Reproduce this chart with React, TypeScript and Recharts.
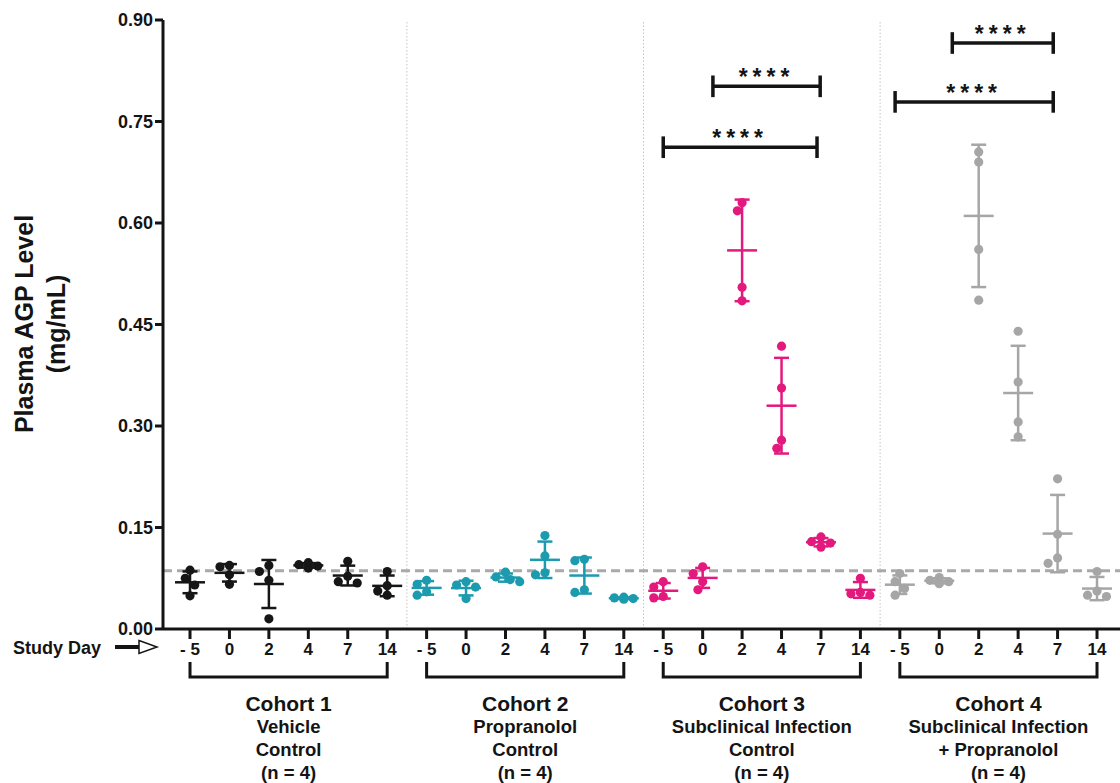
import React from 'react';
import { ComposedChart, Scatter, XAxis, YAxis, ReferenceLine, ErrorBar } from 'recharts';

const DAY_LABELS = ['- 5', '0', '2', '4', '7', '14'];
const Y_TICKS = [0, 0.15, 0.3, 0.45, 0.6, 0.75, 0.9];

const COHORT_TITLES = ['Cohort 1', 'Cohort 2', 'Cohort 3', 'Cohort 4'];
const COHORT_NOTES = [
  ['Vehicle', 'Control', '(n = 4)'],
  ['Propranolol', 'Control', '(n = 4)'],
  ['Subclinical Infection', 'Control', '(n = 4)'],
  ['Subclinical Infection', '+ Propranolol', '(n = 4)'],
];
const COHORT_COLORS = ['#161616', '#1c9aae', '#e3197d', '#a6a6a6'];

// plasma AGP (mg/mL), one row per study day, 4 animals each
const COHORT1 = [
  [0.087, 0.075, 0.065, 0.049],
  [0.094, 0.092, 0.080, 0.066],
  [0.094, 0.085, 0.072, 0.015],
  [0.098, 0.095, 0.093, 0.090],
  [0.100, 0.078, 0.070, 0.068],
  [0.085, 0.064, 0.056, 0.050],
];
const COHORT2 = [
  [0.072, 0.066, 0.055, 0.050],
  [0.070, 0.065, 0.062, 0.045],
  [0.084, 0.077, 0.073, 0.070],
  [0.138, 0.108, 0.083, 0.080],
  [0.103, 0.101, 0.058, 0.054],
  [0.047, 0.046, 0.045, 0.044],
];
const COHORT3 = [
  [0.070, 0.062, 0.048, 0.046],
  [0.092, 0.082, 0.070, 0.058],
  [0.630, 0.618, 0.505, 0.485],
  [0.418, 0.356, 0.279, 0.267],
  [0.136, 0.129, 0.127, 0.121],
  [0.075, 0.054, 0.052, 0.050],
];
const COHORT4 = [
  [0.082, 0.070, 0.060, 0.050],
  [0.076, 0.072, 0.070, 0.067],
  [0.705, 0.690, 0.561, 0.486],
  [0.440, 0.365, 0.306, 0.284],
  [0.222, 0.140, 0.105, 0.097],
  [0.085, 0.056, 0.050, 0.048],
];
const COHORTS = [COHORT1, COHORT2, COHORT3, COHORT4];

const BASELINE = 0.086;

// significance brackets (x in study-day slots, y in mg/mL)
const SIG_FROM = [12, 13.26, 17.88, 19.33];
const SIG_TO = [15.9, 15.98, 21.89, 21.89];
const SIG_LEVEL = [0.712, 0.802, 0.779, 0.866];
const SIG_TEXT = ['****', '****', '****', '****'];

const FONT = '"Liberation Sans", Arial, Helvetica, sans-serif';
const INK = '#141414';

const W = 1120;
const H = 783;
const PLOT_LEFT = 163;
const PLOT_TOP = 20;
const PLOT_BOTTOM = 629;
const DAY_AXIS_H = 32;
const X_MIN = -0.685;
const X_MAX = 23.583;
const UNIT = (W - PLOT_LEFT) / (X_MAX - X_MIN);
const PX_PER_Y = (PLOT_BOTTOM - PLOT_TOP) / 0.9;
const DOT_R = 4.6;

const DAY_TICKS = Array.from({ length: 24 }, (_, i) => i);
const COHORT_CENTERS = [2.5, 8.5, 14.5, 20.5];

// spread overlapping dots sideways, like a column scatter
function spread(values: number[]) {
  const placed: { v: number; o: number }[] = [];
  const steps = [0, -0.12, 0.12, -0.24, 0.24, -0.36, 0.36];
  return values.map((v) => {
    const o =
      steps.find((s) =>
        placed.every((p) => Math.hypot((p.v - v) * PX_PER_Y, (p.o - s) * UNIT) >= DOT_R * 1.85)
      ) ?? 0;
    placed.push({ v, o });
    return o;
  });
}

function mean(a: number[]) {
  return a.reduce((s, v) => s + v, 0) / a.length;
}
function sd(a: number[]) {
  const m = mean(a);
  return Math.sqrt(a.reduce((s, v) => s + (v - m) ** 2, 0) / (a.length - 1));
}

const pointData = COHORTS.map((rows, c) =>
  rows.flatMap((vals, g) => {
    const offs = spread(vals);
    return vals.map((v, k) => ({ x: c * 6 + g + offs[k], y: v }));
  })
);
const meanData = COHORTS.map((rows, c) =>
  rows.map((vals, g) => ({ x: c * 6 + g, y: mean(vals), sd: sd(vals) }))
);

function CohortTick(props: any) {
  const { x, y, payload } = props;
  const c = COHORT_CENTERS.indexOf(payload.value);
  const half = 2.5 * UNIT;
  return (
    <g fontFamily={FONT} fontWeight="bold" fill={INK}>
      <path
        d={`M${x - half},${y + 1}V${y + 16}H${x + half}V${y + 1}`}
        stroke={INK}
        strokeWidth={3}
        fill="none"
      />
      <text x={x} y={y + 50} textAnchor="middle" fontSize={21}>
        {COHORT_TITLES[c]}
      </text>
      {COHORT_NOTES[c].map((t, i) => (
        <text key={i} x={x} y={y + 72 + i * 23} textAnchor="middle" fontSize={18.5}>
          {t}
        </text>
      ))}
    </g>
  );
}

const yTitle = () => (
  <g fontFamily={FONT} fontWeight="bold" fontSize={25} fill={INK}>
    <text transform="translate(33,324) rotate(-90)" textAnchor="middle">
      Plasma AGP Level
    </text>
    <text transform="translate(65,324) rotate(-90)" textAnchor="middle">
      (mg/mL)
    </text>
  </g>
);

const studyDay = () => (
  <g>
    <text x={13} y={654} fontFamily={FONT} fontWeight="bold" fontSize={18} fill={INK}>
      Study Day
    </text>
    <line x1={115} y1={647} x2={140} y2={647} stroke={INK} strokeWidth={4} />
    <path d="M139,640.5 L157,647 L139,653.5 Z" fill="#fff" stroke={INK} strokeWidth={1.5} />
  </g>
);

const stars = (text: string) => (p: any) => {
  const vb = p.viewBox;
  return (
    <text
      x={vb.x + vb.width / 2}
      y={vb.y - 1}
      textAnchor="middle"
      fontFamily={FONT}
      fontWeight="bold"
      fontSize={23}
      letterSpacing={5}
      fill={INK}
    >
      {text}
    </text>
  );
};

export default function App() {
  return (
    <div style={{ position: 'absolute', left: 0, top: 0, width: W, height: H, background: '#fff' }}>
      <ComposedChart width={W} height={H} margin={{ top: PLOT_TOP, right: 0, bottom: 0, left: 0 }}>
        <XAxis
          xAxisId={1}
          type="number"
          dataKey="x"
          domain={[X_MIN, X_MAX]}
          allowDataOverflow
          ticks={COHORT_CENTERS}
          interval={0}
          height={H - PLOT_BOTTOM - DAY_AXIS_H}
          axisLine={false}
          tickLine={false}
          tickSize={0}
          tickMargin={0}
          tick={<CohortTick />}
        />
        <XAxis
          xAxisId={0}
          type="number"
          dataKey="x"
          domain={[X_MIN, X_MAX]}
          allowDataOverflow
          ticks={DAY_TICKS}
          interval={0}
          tickFormatter={(v: number) => DAY_LABELS[v % 6]}
          height={DAY_AXIS_H}
          axisLine={{ stroke: INK, strokeWidth: 3 }}
          tickLine={{ stroke: INK, strokeWidth: 3 }}
          tickSize={10}
          tickMargin={4}
          tick={{ fill: INK, fontSize: 17, fontWeight: 'bold', fontFamily: FONT }}
          label={studyDay}
        />
        <YAxis
          type="number"
          dataKey="y"
          domain={[0, 0.9]}
          ticks={Y_TICKS}
          interval={0}
          width={PLOT_LEFT}
          tickFormatter={(v: number) => v.toFixed(2)}
          axisLine={{ stroke: INK, strokeWidth: 3 }}
          tickLine={{ stroke: INK, strokeWidth: 3 }}
          tickSize={8}
          tick={{ fill: INK, fontSize: 18, fontWeight: 'bold', fontFamily: FONT }}
          label={yTitle}
        />

        {[5.5, 11.5, 17.5].map((x) => (
          <ReferenceLine key={x} x={x} stroke="#c4c4c4" strokeWidth={1} strokeDasharray="1.5 2" />
        ))}
        <ReferenceLine y={BASELINE} stroke="#a9a9a9" strokeWidth={3} strokeDasharray="9 5" />

        {COHORTS.map((_, c) => (
          <Scatter
            key={`pts${c}`}
            data={pointData[c]}
            isAnimationActive={false}
            shape={(p: any) => <circle cx={p.cx} cy={p.cy} r={DOT_R} fill={COHORT_COLORS[c]} />}
          />
        ))}
        {COHORTS.map((_, c) => (
          <Scatter
            key={`mean${c}`}
            data={meanData[c]}
            isAnimationActive={false}
            shape={(p: any) => (
              <line
                x1={p.cx - 15}
                x2={p.cx + 15}
                y1={p.cy}
                y2={p.cy}
                stroke={COHORT_COLORS[c]}
                strokeWidth={2.5}
              />
            )}
          >
            <ErrorBar
              dataKey="sd"
              direction="y"
              width={7.5}
              stroke={COHORT_COLORS[c]}
              strokeWidth={2.5}
              isAnimationActive={false}
            />
          </Scatter>
        ))}

        {SIG_LEVEL.map((lvl, i) => (
          <React.Fragment key={`sig${i}`}>
            <ReferenceLine
              segment={[
                { x: SIG_FROM[i], y: lvl },
                { x: SIG_TO[i], y: lvl },
              ]}
              stroke={INK}
              strokeWidth={3.5}
              label={stars(SIG_TEXT[i])}
            />
            <ReferenceLine
              segment={[
                { x: SIG_FROM[i], y: lvl - 0.016 },
                { x: SIG_FROM[i], y: lvl + 0.016 },
              ]}
              stroke={INK}
              strokeWidth={3.5}
            />
            <ReferenceLine
              segment={[
                { x: SIG_TO[i], y: lvl - 0.016 },
                { x: SIG_TO[i], y: lvl + 0.016 },
              ]}
              stroke={INK}
              strokeWidth={3.5}
            />
          </React.Fragment>
        ))}
      </ComposedChart>
    </div>
  );
}
